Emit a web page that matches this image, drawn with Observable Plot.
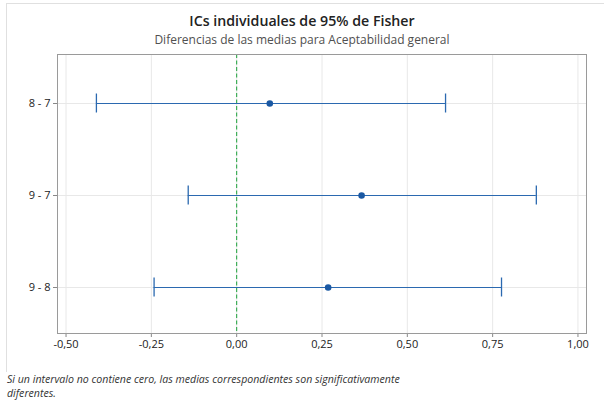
<!DOCTYPE html>
<html>
<head>
<meta charset="utf-8">
<script src="https://cdn.jsdelivr.net/npm/d3@7"></script>
<script src="https://cdn.jsdelivr.net/npm/@observablehq/plot@0.6"></script>
<style>
  html, body { margin: 0; padding: 0; background: #fff; }
  #wrap { position: relative; width: 604px; height: 404px; overflow: hidden; font-family: "Open Sans", "Noto Sans", sans-serif; }
  #border { position: absolute; left: 6px; top: 3px; width: 620px; height: 368px; border-left: 1px solid #e0e0e0; border-top: 1px solid #e0e0e0; }
  #title { position: absolute; left: 0; width: 604px; top: 11px; text-align: center; font-size: 14.2px; font-weight: 600; color: #222; }
  #subtitle { position: absolute; left: 0; width: 604px; top: 31px; text-align: center; font-size: 12px; color: #505050; }
  .cap { position: absolute; left: 7px; font-size: 10.6px; font-style: italic; color: #333; line-height: 13px; white-space: nowrap; }
  #cap1 { top: 373px; }
  #cap2 { top: 387px; }
  #chart { position: absolute; left: 0; top: 0; }
</style>
</head>
<body>
<div id="wrap">
  <div id="border"></div>
  <div id="chart"></div>
  <div id="title">ICs individuales de 95% de Fisher</div>
  <div id="subtitle">Diferencias de las medias para Aceptabilidad general</div>
  <div class="cap" id="cap1">Si un intervalo no contiene cero, las medias correspondientes son significativamente</div>
  <div class="cap" id="cap2">diferentes.</div>
</div>
<script>
const pairs = ["8 - 7", "9 - 7", "9 - 8"];
const centers = [0.097, 0.366, 0.268];
const lowers = [-0.411, -0.142, -0.242];
const uppers = [0.612, 0.878, 0.776];
const xTicks = [-0.5, -0.25, 0, 0.25, 0.5, 0.75, 1.0];

const data = pairs.map((p, i) => ({pair: p, c: centers[i], lo: lowers[i], hi: uppers[i]}));
const blue = "#2b69b0";
const dotBlue = "#1a58a3";
const fmt = d => d.toFixed(2).replace(".", ",");

const chart = Plot.plot({
  width: 604,
  height: 404,
  marginLeft: 57,
  marginRight: 18,
  marginTop: 54,
  marginBottom: 71,
  style: {fontFamily: "'Open Sans', 'Noto Sans', sans-serif", fontSize: "11px", color: "#222", background: "transparent"},
  x: {domain: [-0.525, 1.025], ticks: xTicks, tickFormat: fmt, label: null, tickSize: 4},
  y: {domain: pairs, padding: 0, insetTop: 2, label: null, tickSize: 4},
  marks: [
    Plot.gridX(xTicks, {stroke: "#e8e8e8", strokeOpacity: 1}),
    Plot.gridY(pairs, {stroke: "#e8e8e8", strokeOpacity: 1}),
    Plot.ruleX([0], {stroke: "#1ea33c", strokeWidth: 1, strokeDasharray: "4,2.5"}),
    Plot.ruleY(data, {y: "pair", x1: "lo", x2: "hi", stroke: blue, strokeWidth: 1.1}),
    Plot.tickX(data, {x: "lo", y: "pair", stroke: blue, strokeWidth: 1.3, insetTop: 36.5, insetBottom: 36.5}),
    Plot.tickX(data, {x: "hi", y: "pair", stroke: blue, strokeWidth: 1.3, insetTop: 36.5, insetBottom: 36.5}),
    Plot.dot(data, {x: "c", y: "pair", r: 3.3, fill: dotBlue, stroke: null}),
    Plot.axisX({ticks: xTicks, tickFormat: fmt, tickSize: 4, stroke: "#888", tickPadding: 3, fontSize: 11}),
    Plot.axisY({tickSize: 4, stroke: "#888", tickPadding: 3, fontSize: 11}),
    Plot.frame({stroke: "#9a9a9a", strokeWidth: 1})
  ]
});
document.getElementById("chart").appendChild(chart);
</script>
</body>
</html>
